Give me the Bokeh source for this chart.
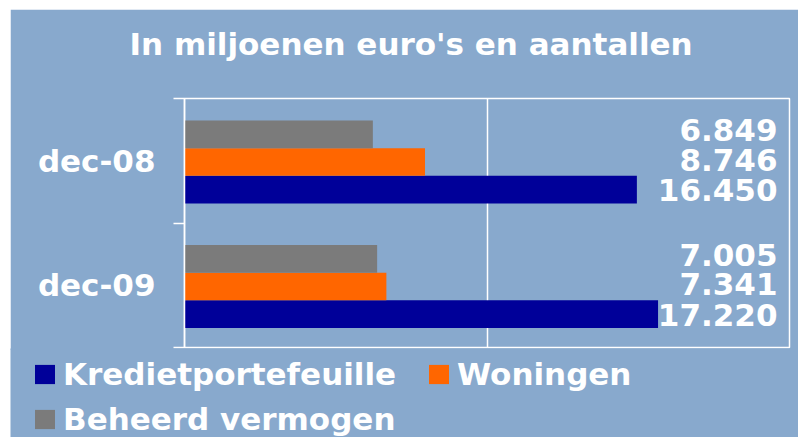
from bokeh.plotting import figure
from bokeh.layouts import column
from bokeh.models import (Range1d, LinearAxis, FixedTicker,
                          ColumnDataSource, Legend, LegendItem, Grid)
from bokeh.core.properties import value
from bokeh.embed import file_html
from bokeh.resources import INLINE

# ---- data ----
categories = ["dec-08", "dec-09"]
series_names = ["Kredietportefeuille", "Woningen", "Beheerd vermogen"]
kredietportefeuille = [16450, 17220]
woningen = [8746, 7341]
beheerd_vermogen = [6849, 7005]
title_text = "In miljoenen euro's en aantallen"

BG = "#88A9CD"
FONT = "DejaVu Sans"
colors = ["#000099", "#FF6600", "#7B7B7B"]


def fmt(v):
    return f"{v:,}".replace(",", ".")


n = len(categories)
# category centres on a numeric axis: first category on top
centres = [n - i - 0.5 for i in range(n)]
bounds = list(range(n + 1))

src = ColumnDataSource(dict(
    cat=categories, yc=centres,
    k=kredietportefeuille, w=woningen, b=beheerd_vermogen,
    k_lbl=[fmt(v) for v in kredietportefeuille],
    w_lbl=[fmt(v) for v in woningen],
    b_lbl=[fmt(v) for v in beheerd_vermogen],
))

XMAX = 22000
p = figure(width=788, height=341,
           y_range=Range1d(0, n), x_range=Range1d(0, XMAX),
           output_backend="svg", toolbar_location=None,
           x_axis_location=None, y_axis_location=None,
           min_border_left=174, min_border_right=9,
           min_border_top=89, min_border_bottom=3)
p.frame_align = False
p.background_fill_color = BG
p.border_fill_color = BG
p.outline_line_color = "white"
p.outline_line_width = 1.5
p.xgrid.visible = False
p.ygrid.visible = False

# title
p.title.text = title_text
p.title.align = "left"
p.title.offset = -55
p.title.vertical_align = "bottom"
p.title.standoff = 0
p.title.padding = dict(left=0, right=0, top=0, bottom=37)
p.title.text_font = FONT
p.title.text_font_style = "bold"
p.title.text_font_size = "31px"
p.title.text_color = "white"

# vertical grid line
p.add_layout(Grid(dimension=0, ticker=FixedTicker(ticks=[XMAX / 2]),
                  grid_line_color="white", grid_line_width=1.5))

# left axis: labels at category centres, tick marks at category boundaries
cat_axis = LinearAxis(ticker=FixedTicker(ticks=centres, minor_ticks=bounds),
                      major_label_overrides={c: lab for c, lab in zip(centres, categories)},
                      axis_line_color="white", axis_line_width=1.5,
                      major_tick_line_color=None, major_tick_out=0, major_tick_in=0,
                      minor_tick_line_color="white", minor_tick_line_width=1.5,
                      minor_tick_out=11, minor_tick_in=0,
                      major_label_text_font=FONT, major_label_text_font_style="bold",
                      major_label_text_font_size="31px", major_label_text_color="white",
                      major_label_standoff=18)
p.add_layout(cat_axis, "left")

# legend strip below the chart (its bars lie outside its visible x range)
p2 = figure(width=788, height=89, x_range=Range1d(-2, -1), y_range=Range1d(0, 1),
            output_backend="svg", toolbar_location=None,
            x_axis_location=None, y_axis_location=None,
            min_border_left=0, min_border_right=0, min_border_top=0, min_border_bottom=0,
            margin=(-2, 0, 0, 0))
p2.frame_align = False
p2.background_fill_color = BG
p2.border_fill_color = BG
p2.outline_line_color = None
p2.xgrid.visible = False
p2.ygrid.visible = False

# bars and labels
series = [("k", -0.232, -0.236), ("w", -0.010, 0.009), ("b", 0.212, 0.243)]
items = []
for (col, off, loff), name, color in zip(series, series_names, colors):
    src.data[col + "_y"] = [c + off for c in centres]
    src.data[col + "_ly"] = [c + loff for c in centres]
    p.hbar(y=col + "_y", left=0, right=col, height=0.2225,
           source=src, fill_color=color, line_color=None)
    p.text(x=XMAX, y=col + "_ly", text=col + "_lbl", source=src,
           text_align="right", text_baseline="alphabetic", x_offset=-12,
           text_color="white", text_font=value(FONT), text_font_style="bold",
           text_font_size="31px")
    r2 = p2.hbar(y=col + "_y", left=0, right=col, height=0.2225, source=src,
                 fill_color=color, line_color=None)
    items.append(LegendItem(label=name, renderers=[r2]))

legend = Legend(items=items, location=(22, 0), orientation="horizontal", ncols=2,
                padding=0, margin=0, spacing=9, label_standoff=6,
                glyph_width=25, glyph_height=24, label_width=354, label_height=35,
                label_text_font=FONT, label_text_font_style="bold",
                label_text_font_size="31px", label_text_color="white",
                background_fill_alpha=0, border_line_color=None)
p2.add_layout(legend, "center")

layout = column(p, p2, spacing=0, margin=(9, 0, 0, 10))
open("out.html", "w").write(file_html(layout, INLINE))
